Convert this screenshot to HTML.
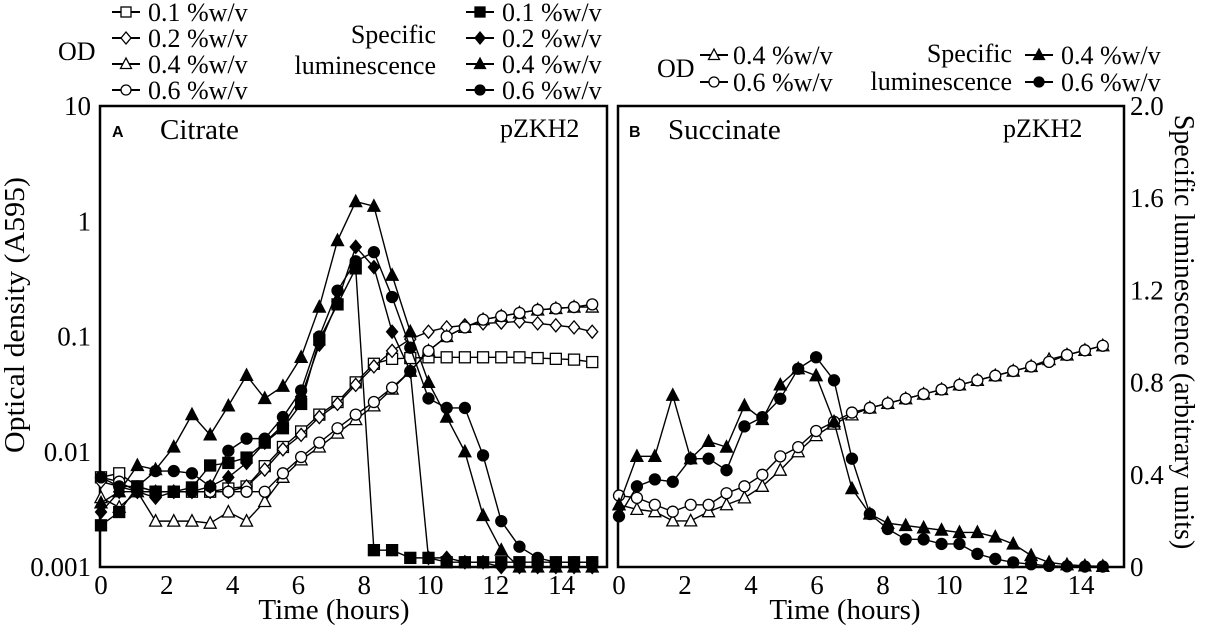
<!DOCTYPE html>
<html><head><meta charset="utf-8"><style>
html,body{margin:0;padding:0;background:#fff;}
svg{display:block;font-family:"Liberation Serif",serif;}
</style></head><body>
<svg id="chart" width="1205" height="629" viewBox="0 0 1205 629" xmlns="http://www.w3.org/2000/svg">
<g id="static">
  <rect x="100" y="106" width="507" height="461" fill="none" stroke="#000" stroke-width="2.5"/>
  <rect x="618" y="106" width="506" height="461" fill="none" stroke="#000" stroke-width="2.5"/>
  <text x="112" y="137" font-family="Liberation Sans,sans-serif" font-weight="bold" font-size="16">A</text>
  <text x="160" y="139" font-size="29">Citrate</text>
  <text x="500" y="137" font-size="26">pZKH2</text>
  <text x="629" y="137" font-family="Liberation Sans,sans-serif" font-weight="bold" font-size="16">B</text>
  <text x="668" y="139" font-size="29">Succinate</text>
  <text x="1003" y="137" font-size="26">pZKH2</text>
  <text transform="translate(24,315) rotate(-90)" text-anchor="middle" font-size="28" textLength="276" lengthAdjust="spacingAndGlyphs">Optical density (A595)</text>
  <text transform="translate(1175,332) rotate(90)" text-anchor="middle" font-size="28">Specific luminescence (arbitrary units)</text>
  <text x="334" y="619" text-anchor="middle" font-size="29">Time (hours)</text>
  <text x="845" y="619" text-anchor="middle" font-size="29">Time (hours)</text>
  <text x="58" y="60" font-size="26">OD</text>
  <text x="436" y="43" text-anchor="end" font-size="26">Specific</text>
  <text x="436" y="74" text-anchor="end" font-size="26">luminescence</text>
  <text x="657" y="77" font-size="26">OD</text>
  <text x="1012" y="62" text-anchor="end" font-size="26">Specific</text>
  <text x="1012" y="90" text-anchor="end" font-size="26">luminescence</text>
</g>
<g id="dyn"></g>
</svg>
<script>
// ---------- data ----------
const stepA = 0.553;
const stepB = 0.543;
const xTicks = [0,2,4,6,8,10,12,14];
const yTicksA = [0.001,0.01,0.1,1,10];
const yTickLabelsA = ["0.001","0.01","0.1","1","10"];
const yTicksB = [0,0.4,0.8,1.2,1.6,2.0];
const yTickLabelsB = ["0","0.4","0.8","1.2","1.6","2.0"];
const concLabels = ["0.1 %w/v","0.2 %w/v","0.4 %w/v","0.6 %w/v"];

// Panel A: optical density (open markers)
const odA01 = [0.006,0.0065,0.005,0.0045,0.0045,0.0045,0.0045,0.0048,0.005,0.0075,0.011,0.015,0.021,0.027,0.04,0.058,0.064,0.065,0.066,0.066,0.066,0.066,0.066,0.066,0.065,0.064,0.063,0.06];
const odA02 = [0.0055,0.005,0.0045,0.0045,0.0045,0.0045,0.0045,0.0045,0.005,0.007,0.0105,0.014,0.02,0.026,0.038,0.055,0.075,0.095,0.11,0.12,0.125,0.13,0.132,0.135,0.13,0.125,0.12,0.11];
const odA04 = [0.004,0.0033,0.0045,0.0025,0.0025,0.0025,0.0024,0.003,0.0025,0.0037,0.006,0.0085,0.011,0.0145,0.019,0.025,0.035,0.05,0.075,0.1,0.12,0.14,0.15,0.16,0.17,0.175,0.18,0.18];
const odA06 = [0.006,0.0055,0.0045,0.0045,0.0045,0.0045,0.0045,0.0045,0.0045,0.0045,0.0065,0.009,0.012,0.016,0.021,0.027,0.036,0.05,0.075,0.1,0.12,0.14,0.15,0.16,0.17,0.175,0.18,0.19];
// Panel A: specific luminescence (filled markers)
const lumA01 = [0.0023,0.003,0.005,0.0045,0.0045,0.0049,0.0076,0.008,0.0089,0.012,0.016,0.026,0.094,0.19,0.39,0.0014,0.0014,0.0012,0.0012,0.0011,0.0011,0.0011,0.0011,0.0011,0.0011,0.0011,0.0011,0.0011];
const lumA02 = [0.003,0.0045,0.0045,0.004,0.0045,0.0045,0.005,0.006,0.008,0.012,0.017,0.03,0.085,0.2,0.6,0.4,0.11,0.05,0.0012,0.0012,0.0011,0.0011,0.001,0.001,0.001,0.001,0.001,0.001];
const lumA04 = [0.0036,0.0045,0.0076,0.007,0.011,0.021,0.014,0.025,0.046,0.029,0.037,0.066,0.18,0.68,1.48,1.35,0.34,0.11,0.04,0.02,0.01,0.0028,0.0014,0.001,0.001,0.001,0.001,0.001];
const lumA06 = [0.006,0.005,0.005,0.0068,0.0068,0.0065,0.005,0.0102,0.013,0.013,0.02,0.034,0.1,0.25,0.45,0.54,0.22,0.08,0.029,0.024,0.024,0.0093,0.0025,0.0015,0.0012,0.0011,0.0011,0.0011];
// Panel B
const odB04 = [0.27,0.25,0.24,0.2,0.2,0.24,0.27,0.3,0.35,0.42,0.5,0.57,0.62,0.66,0.69,0.71,0.73,0.75,0.77,0.79,0.81,0.83,0.85,0.87,0.9,0.92,0.94,0.96];
const odB06 = [0.31,0.3,0.27,0.24,0.27,0.27,0.32,0.35,0.4,0.48,0.52,0.59,0.63,0.67,0.69,0.71,0.73,0.75,0.77,0.79,0.81,0.83,0.85,0.87,0.89,0.92,0.94,0.96];
const lumB04 = [0.27,0.48,0.48,0.745,0.47,0.545,0.52,0.7,0.64,0.79,0.86,0.83,0.63,0.34,0.23,0.19,0.18,0.17,0.16,0.15,0.15,0.13,0.1,0.05,0.02,0.01,0.005,0.003];
const lumB06 = [0.22,0.35,0.38,0.37,0.47,0.47,0.42,0.61,0.65,0.73,0.86,0.91,0.81,0.47,0.23,0.165,0.12,0.12,0.1,0.1,0.057,0.035,0.02,0.012,0.005,0.003,0.002,0.002];

// ---------- axes ----------
const TOP=106, BOT=567;
function xA(t){return 101+t*32.9;}
function yA(v){return BOT-(Math.log10(v)+3)*(BOT-TOP)/4;}
function xB(t){return 619+t*33.0;}
function yB(v){return BOT-v*(BOT-TOP)/2;}

const NS="http://www.w3.org/2000/svg";
const dyn=document.getElementById('dyn');
function mk(tag,attrs,parent){const e=document.createElementNS(NS,tag);for(const k in attrs)e.setAttribute(k,attrs[k]);(parent||dyn).appendChild(e);return e;}

function marker(shape,filled,x,y,parent,s){
  s=s||5.5;
  const st={fill:filled?'#000':'#fff',stroke:'#000','stroke-width':1.3};
  if(shape==='square') return mk('rect',Object.assign({x:x-s,y:y-s,width:2*s,height:2*s},st),parent);
  if(shape==='circle') return mk('circle',Object.assign({cx:x,cy:y,r:s},st),parent);
  if(shape==='triangle') return mk('polygon',Object.assign({points:`${x},${y-s-1} ${x-s-0.5},${y+s-0.5} ${x+s+0.5},${y+s-0.5}`},st),parent);
  return mk('polygon',Object.assign({points:`${x},${y-s-1} ${x-s},${y} ${x},${y+s+1} ${x+s},${y}`},st),parent);
}

function series(name,vals,step,xf,yf,shape,filled){
  const g=mk('g',{});
  
  
  const pts=vals.map((v,i)=>[xf(i*step),yf(v)]);
  const pl=mk('polyline',{points:pts.map(p=>p.join(',')).join(' '),fill:'none',stroke:'#000','stroke-width':1.4},g);
  
  
  pts.forEach(p=>{
    const m=marker(shape,filled,p[0],p[1],g);
    
    
  });
}

xTicks.forEach(t=>{
  let e=mk('text',{x:xA(t),y:594,'text-anchor':'middle','font-size':27});
  e.textContent=t;
  
  
  e=mk('text',{x:xB(t),y:594,'text-anchor':'middle','font-size':27});
  e.textContent=t;
  
  
});
yTicksA.forEach((v,i)=>{
  const e=mk('text',{x:91,y:yA(v)+9,'text-anchor':'end','font-size':27});
  e.textContent=yTickLabelsA[i];
  
  
});
yTicksB.forEach((v,i)=>{
  const e=mk('text',{x:1130,y:yB(v)+9,'font-size':27});
  e.textContent=yTickLabelsB[i];
  
  
});

series('od-a-0.1',odA01,stepA,xA,yA,'square',false);
series('od-a-0.2',odA02,stepA,xA,yA,'diamond',false);
series('od-a-0.4',odA04,stepA,xA,yA,'triangle',false);
series('od-a-0.6',odA06,stepA,xA,yA,'circle',false);
series('lum-a-0.1',lumA01,stepA,xA,yA,'square',true);
series('lum-a-0.2',lumA02,stepA,xA,yA,'diamond',true);
series('lum-a-0.4',lumA04,stepA,xA,yA,'triangle',true);
series('lum-a-0.6',lumA06,stepA,xA,yA,'circle',true);
series('od-b-0.4',odB04,stepB,xB,yB,'triangle',false);
series('od-b-0.6',odB06,stepB,xB,yB,'circle',false);
series('lum-b-0.4',lumB04,stepB,xB,yB,'triangle',true);
series('lum-b-0.6',lumB06,stepB,xB,yB,'circle',true);

const shapes=['square','diamond','triangle','circle'];
function legendEntry(x,y,shape,filled,label,name,gap){
  const g=mk('g',{});
  
  
  mk('line',{x1:x,y1:y,x2:x+28,y2:y,stroke:'#000','stroke-width':2},g);
  marker(shape,filled,x+14,y,g,5);
  const t=mk('text',{x:x+(gap||34),y:y+9,'font-size':26},g);
  t.textContent=label;
}
[12,38,64,90].forEach((y,i)=>{
  legendEntry(112,y,shapes[i],false,concLabels[i],'legend-a-od-entry',36);
  legendEntry(466,y,shapes[i],true,concLabels[i],'legend-a-lum-entry',36);
});
legendEntry(700,55,'triangle',false,concLabels[2],'legend-b-od-entry',33);
legendEntry(700,82,'circle',false,concLabels[3],'legend-b-od-entry',33);
legendEntry(1025,55,'triangle',true,concLabels[2],'legend-b-lum-entry',36);
legendEntry(1025,82,'circle',true,concLabels[3],'legend-b-lum-entry',36);
</script>
</body></html>
